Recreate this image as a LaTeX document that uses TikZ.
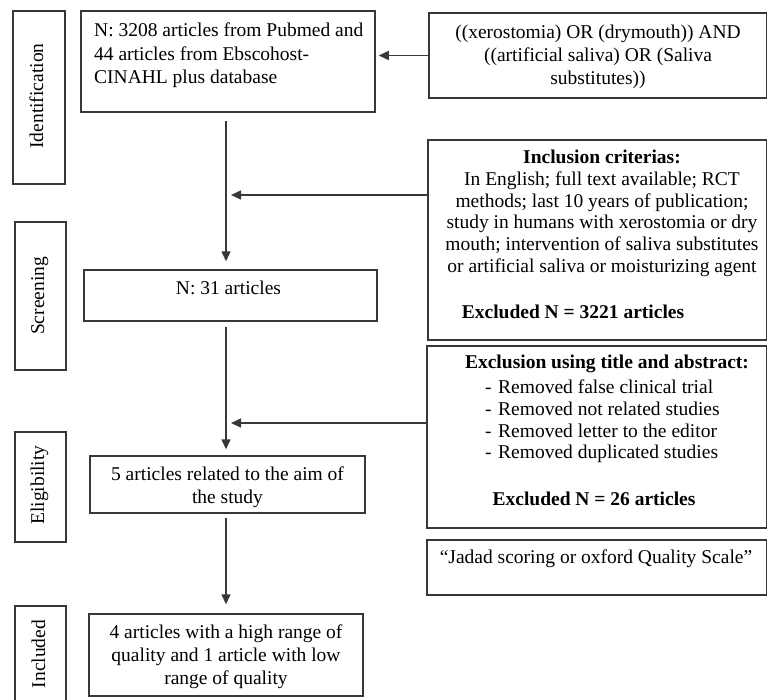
\documentclass[tikz,border=0pt]{standalone}
\usepackage{fontspec}
\setmainfont{Liberation Serif}
\usetikzlibrary{arrows.meta}
\newcommand\myfs[1]{\fontsize{19.5}{#1}\selectfont}
\tikzset{
  box/.style={draw=black!78, line width=1.5pt, rectangle, inner sep=0pt},
  lbl/.style={font=\myfs{22}, rotate=90, anchor=base, inner sep=0pt},
  txt/.style={inner sep=0pt, text=black},
  arr/.style={-{Triangle[length=10pt,width=9pt]}, line width=1.5pt, draw=black!78},
}
\begin{document}
\begin{tikzpicture}[x={(1pt,0)}, y={(0,-1pt)}]
\clip (0,0) rectangle (767,699);
\fill[white] (0,0) rectangle (767,699);

% stage label boxes
\node[box, minimum width=52, minimum height=173] (lid) at (39,97.5) {};
\node[box, minimum width=51, minimum height=148] (lsc) at (40.5,296) {};
\node[box, minimum width=51, minimum height=110] (lel) at (40.5,487) {};
\node[box, minimum width=51, minimum height=98] (lin) at (40.5,655) {};
\node[lbl] (tid) at (43,96) {Identification};
\node[lbl] (tsc) at (44,296) {Screening};
\node[lbl] (tel) at (44,485) {Eligibility};
\node[lbl] (tin) at (45,654) {Included};

% main boxes
\node[box, minimum width=294, minimum height=101] (b1) at (228,61.5) {};
\node[box, minimum width=338, minimum height=85] (q) at (598,55.5) {};
\node[box, minimum width=339, minimum height=200] (incl) at (597.5,240) {};
\node[box, minimum width=293, minimum height=51] (n31) at (230.5,295.5) {};
\node[box, minimum width=340, minimum height=182] (excl) at (597,437) {};
\node[box, minimum width=275, minimum height=57] (five) at (227.5,484.5) {};
\node[box, minimum width=340, minimum height=55] (jad) at (597,567.5) {};
\node[box, minimum width=274, minimum height=82] (four) at (226,655) {};

% texts
\node[txt, font=\myfs{23.5}, align=left, anchor=north west] (tb1) at (94,22.7)
  {N: 3208 articles from Pubmed and\\44 articles from Ebscohost-\\CINAHL plus database};
\node[txt, font=\myfs{23}, align=center, anchor=north] (tq) at (598,24.5)
  {((xerostomia) OR (drymouth)) AND\\((artificial saliva) OR (Saliva\\substitutes))};
\node[txt, font=\myfs{21.8}, align=center, anchor=north] (tincl) at (602,149.8)
  {\textbf{Inclusion criterias:}\\In English; full text available; RCT\\methods; last 10 years of publication;\\study in humans with xerostomia or dry\\mouth; intervention of saliva substitutes\\or artificial saliva or moisturizing agent};
\node[txt, font=\myfs{22}\bfseries, anchor=base] (ex1) at (573,318) {Excluded N = 3221 articles};
\node[txt, font=\myfs{22}, anchor=base] (tn31) at (228.5,294) {N: 31 articles};
\node[txt, font=\myfs{22}\bfseries, anchor=base] (texh) at (607,368) {Exclusion using title and abstract:};
\node[txt, font=\myfs{21.7}, align=left, anchor=north west] (tlist) at (485,379.7)
  {\makebox[13pt][l]{-}Removed false clinical trial\\
   \makebox[13pt][l]{-}Removed not related studies\\
   \makebox[13pt][l]{-}Removed letter to the editor\\
   \makebox[13pt][l]{-}Removed duplicated studies};
\node[txt, font=\myfs{22}\bfseries, anchor=base] (ex2) at (594,505) {Excluded N = 26 articles};
\node[txt, font=\myfs{23}, align=center, anchor=north] (tfive) at (227.5,466.7)
  {5 articles related to the aim of\\the study};
\node[txt, font=\myfs{22}, anchor=base] (tjad) at (596,563) {“Jadad scoring or oxford Quality Scale”};
\node[txt, font=\myfs{23}, align=center, anchor=north] (tfour) at (226,624.7)
  {4 articles with a high range of\\quality and 1 article with low\\range of quality};

% connectors
\coordinate (spine) at (226,0);
\coordinate (j1) at (226,195);
\coordinate (j2) at (226,423);
\draw[arr, shorten <=8pt, shorten >=8pt] (b1.south -| spine) -- (n31.north -| spine);
\draw[arr, shorten <=5pt, shorten >=6pt] (n31.south -| spine) -- (five.north -| spine);
\draw[arr, shorten <=4pt, shorten >=9pt] (five.south -| spine) -- (four.north -| spine);
\draw[arr, shorten >=3pt] (q.west) -- (q.west -| b1.east);
\draw[arr, shorten >=5pt] (incl.west |- j1) -- (j1);
\draw[arr, shorten >=5pt] (excl.west |- j2) -- (j2);
\end{tikzpicture}
\end{document}
